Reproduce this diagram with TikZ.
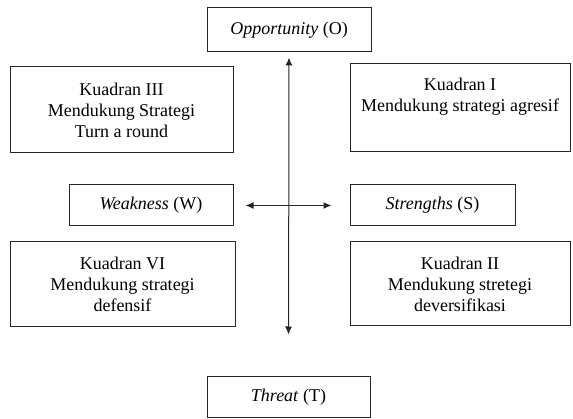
\documentclass[tikz,border=0pt]{standalone}
\usepackage{fontspec}
\setmainfont{Liberation Serif}
\usetikzlibrary{arrows.meta}

\tikzset{
    kotak/.style={draw=black!85, line width=1pt, align=center, inner sep=0pt,
        font=\fontsize{18}{21}\selectfont},
    panah/.style={line width=1pt, draw=black!85, {Latex[length=8pt,width=7pt]}-{Latex[length=8pt,width=7pt]}}
}

\begin{document}
\begin{tikzpicture}[x=1pt, y=-1pt]
    \useasboundingbox (0,0) rectangle (573,419);

    % faktor
    \node[kotak, minimum width=164pt, minimum height=44pt] (opp) at (289,30) {\textit{Opportunity} (O)};
    \node[kotak, minimum width=164pt, minimum height=41pt] (wk) at (151,205.5) {\textit{Weakness} (W)};
    \node[kotak, minimum width=165pt, minimum height=41pt] (st) at (432.5,205.5) {\textit{Strengths} (S)};
    \node[kotak, minimum width=163pt, minimum height=41pt] (thr) at (288.5,397.5) {\textit{Threat} (T)};

    % kuadran
    \node[kotak, minimum width=223pt, minimum height=86pt] (k3) at (121.5,110) {Kuadran III\\Mendukung Strategi\\Turn a round};
    \node[kotak, minimum width=220pt, minimum height=88pt] (k1) at (460,108) {Kuadran I\\Mendukung strategi agresif\\\strut};
    \node[kotak, minimum width=225pt, minimum height=85pt] (k6) at (122.5,284.5) {Kuadran VI\\Mendukung strategi\\defensif};
    \node[kotak, minimum width=220pt, minimum height=84pt] (k2) at (460,284) {Kuadran II\\Mendukung stretegi\\deversifikasi};

    % sumbu
    \draw[panah, shorten <=5pt, shorten >=42pt] (opp.south) -- (thr.north);
    \draw[panah, shorten <=12pt, shorten >=18pt] (wk.east) -- (st.west);
\end{tikzpicture}
\end{document}
